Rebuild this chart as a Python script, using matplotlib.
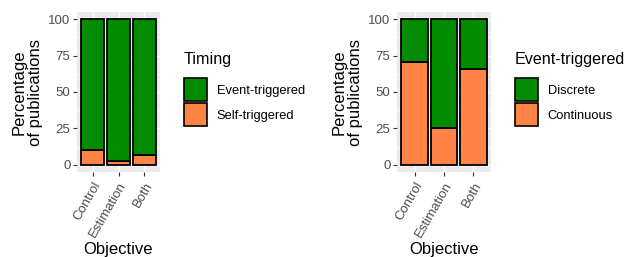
import numpy as np
import matplotlib

matplotlib.use("Agg")

import matplotlib.pyplot as plt
from matplotlib.patches import Patch

plt.rcParams["font.family"] = ["Liberation Sans", "DejaVu Sans"]

objectives = ["Control", "Estimation", "Both"]

# left panel: timing
self_triggered = [10, 2.5, 7]
event_triggered = [100 - v for v in self_triggered]

# right panel: event-triggered type
continuous = [70.7, 25.5, 65.5]
discrete = [100 - v for v in continuous]

green = "#008B00"
orange = "#FF8445"
panel_bg = "#EBEBEB"
tick_col = "#4D4D4D"

fig = plt.figure(figsize=(6.27, 2.57), dpi=100)

W, H = 627, 257


def px_axes(x0, x1, y0, y1):
    return fig.add_axes([x0 / W, 1 - y1 / H, (x1 - x0) / W, (y1 - y0) / H])


def style(ax):
    ax.set_facecolor(panel_bg)
    for s in ax.spines.values():
        s.set_visible(False)
    ax.set_xlim(0.4, 3.6)
    ax.set_ylim(-5, 105)
    ax.set_yticks([0, 25, 50, 75, 100])
    ax.set_yticks([12.5, 37.5, 62.5, 87.5], minor=True)
    ax.set_xticks([1, 2, 3])
    ax.set_xticklabels(objectives, rotation=60, ha="right",
                       rotation_mode="anchor", fontsize=9.5, color=tick_col)
    ax.tick_params(axis="y", labelsize=9.5, labelcolor=tick_col,
                   color="#333333", length=2.7, width=0.8, pad=2)
    ax.tick_params(axis="x", color="#333333", length=2.7, width=0.8, pad=3)
    ax.tick_params(which="minor", length=0)
    ax.grid(True, which="major", color="white", linewidth=1.0)
    ax.grid(True, which="minor", axis="y", color="white", linewidth=0.5)
    ax.set_axisbelow(True)
    ax.set_xlabel("Objective", fontsize=12, labelpad=2)
    ax.set_ylabel("Percentage\nof publications", fontsize=12,
                  linespacing=1.1, labelpad=4)


def legend(ax, title, labels, x, y):
    handles = [Patch(facecolor=green, edgecolor="black", linewidth=1.2),
               Patch(facecolor=orange, edgecolor="black", linewidth=1.2)]
    lg = ax.legend(handles, labels, title=title, loc="upper left",
                   bbox_to_anchor=(x / W, 1 - y / H),
                   bbox_transform=fig.transFigure, frameon=False,
                   fontsize=9.3, title_fontsize=11.6, handlelength=1.78,
                   handleheight=2.37, labelspacing=0.15, handletextpad=0.75,
                   borderpad=0, borderaxespad=0, alignment="left")
    lg._legend_box.sep = 8


x = np.arange(1, 4)

ax1 = px_axes(77, 160, 12, 172)
style(ax1)
ax1.bar(x, self_triggered, width=0.9, color=orange, edgecolor="black",
        linewidth=1.3)
ax1.bar(x, event_triggered, width=0.9, bottom=self_triggered, color=green,
        edgecolor="black", linewidth=1.3)
legend(ax1, "Timing", ["Event-triggered", "Self-triggered"], 184, 52)

ax2 = px_axes(397, 491, 12, 172)
style(ax2)
ax2.bar(x, continuous, width=0.9, color=orange, edgecolor="black",
        linewidth=1.3)
ax2.bar(x, discrete, width=0.9, bottom=continuous, color=green,
        edgecolor="black", linewidth=1.3)
legend(ax2, "Event-triggered", ["Discrete", "Continuous"], 515, 52)

fig.savefig("out.png", dpi=100)
